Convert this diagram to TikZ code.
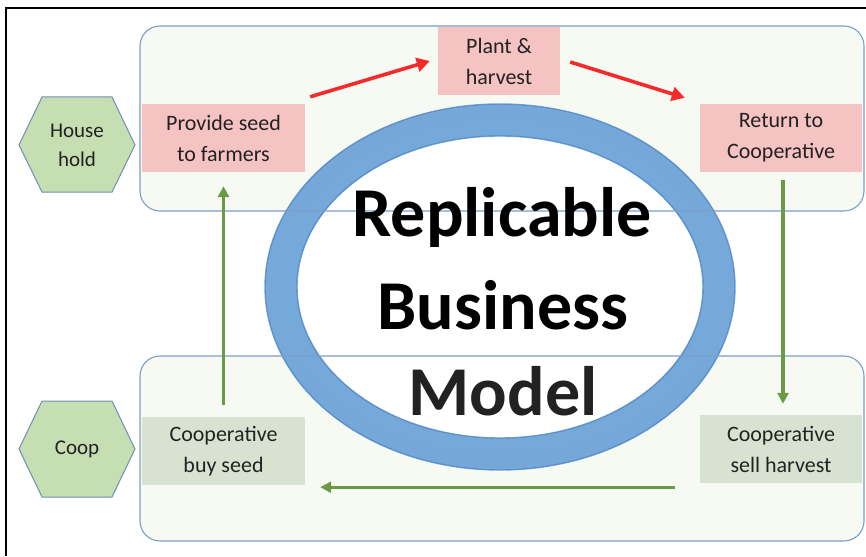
\documentclass[tikz,border=0pt]{standalone}
\usepackage{fontspec}
\setmainfont{Carlito}
\usetikzlibrary{arrows.meta}
\definecolor{panelfill}{HTML}{F7F9F3}
\definecolor{panelline}{HTML}{7E9EC6}
\definecolor{pinkbox}{HTML}{F5C3C1}
\definecolor{greenbox}{HTML}{D7E3D0}
\definecolor{hexfill}{HTML}{C6DFB2}
\definecolor{hexline}{HTML}{6F8FB5}
\definecolor{ringblue}{HTML}{6AA2D6}
\definecolor{ringedge}{HTML}{4A83C4}
\definecolor{redarr}{HTML}{F52A2A}
\definecolor{greenarr}{HTML}{6A9A46}
\definecolor{txt}{HTML}{222222}
\tikzset{
  panel/.style={draw=panelline, line width=1.1pt, rounded corners=20pt},
  stepbox/.style={minimum height=68pt, inner sep=0pt, align=center, font=\fontsize{22}{31}\selectfont, text=txt},
  pinkstep/.style={stepbox, fill=pinkbox},
  greenstep/.style={stepbox, fill=greenbox},
  hexnode/.style={align=center, font=\fontsize{21}{29}\selectfont, text=txt},
  redarrow/.style={draw=redarr, line width=3.6pt, -{Triangle[length=13pt,width=14pt]}},
  greenarrow/.style={draw=greenarr, line width=3.2pt, -{Triangle[length=11pt,width=11pt]}},
  bigtext/.style={font=\fontsize{70}{88}\selectfont\bfseries, text=black}
}
\begin{document}
\begin{tikzpicture}[x=1pt,y=-1pt]
\useasboundingbox (0,0) rectangle (866,556);
% frame (top and left)
\draw[black, line width=2pt] (6,556) -- (6,8) -- (866,8);
% panels fill
\fill[panelfill, rounded corners=20pt] (140,26) rectangle (864,211);
\fill[panelfill, rounded corners=20pt] (140,356) rectangle (864,541);
% boxes
\node[pinkstep, minimum width=163pt] (prov) at (223.5,138) {Provide seed\\to farmers};
\node[pinkstep, minimum width=122pt] (plant) at (499,61) {Plant \&\\harvest};
\node[pinkstep, minimum width=162pt] (ret) at (781,138) {Return to\\Cooperative};
\node[greenstep, minimum width=163pt] (buy) at (223.5,451) {Cooperative\\buy seed};
\node[greenstep, minimum width=162pt] (sell) at (781,449) {Cooperative\\sell harvest};
% ring
\fill[white] (500,287) ellipse [x radius=219, y radius=167];
\draw[ringblue, line width=32pt, opacity=0.92] (500,287) ellipse [x radius=219, y radius=167];
\draw[ringedge, line width=1.4pt, opacity=0.75] (500,287) ellipse [x radius=235, y radius=183];
\draw[ringedge, line width=1.4pt, opacity=0.75] (500,287) ellipse [x radius=203, y radius=151];
% panel borders over
\draw[panel] (140,26) rectangle (864,211);
\draw[panel] (140,356) rectangle (864,541);
% hexagons
\draw[fill=hexfill, draw=hexline, line width=1pt] (19,145) -- (42,97) -- (112,97) -- (135,145) -- (112,192) -- (42,192) -- cycle;
\node[hexnode] (house) at (77,145) {House\\hold};
\draw[fill=hexfill, draw=hexline, line width=1pt] (19,449) -- (42,401) -- (112,401) -- (135,449) -- (112,497) -- (42,497) -- cycle;
\node[hexnode] (coop) at (77,449) {Coop};
% arrows
\draw[redarrow] ([shift={(5,-7)}]prov.north east) -- ([shift={(-8,0)}]plant.west);
\draw[redarrow] ([shift={(10,1)}]plant.east) -- ([shift={(-15,-6)}]ret.north west);
\draw[greenarrow] ([shift={(0,-12)}]buy.north) -- ([shift={(0,14)}]prov.south);
\draw[greenarrow] ([shift={(2,8)}]ret.south) -- ([shift={(2,-11)}]sell.north);
\draw[greenarrow] ([shift={(-25,4)}]sell.south west) -- ([shift={(15,2)}]buy.south east);
% title
\node[bigtext] (t1) at (502,217) {Replicable};
\node[bigtext] (t2) at (503,305) {Business};
\node[bigtext, text=txt] (t3) at (503,391) {Model};
\end{tikzpicture}
\end{document}
